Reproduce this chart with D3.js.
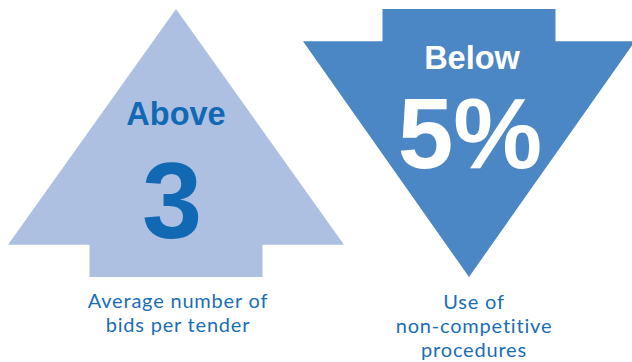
<!DOCTYPE html>
<html>
<head>
<meta charset="utf-8">
<script src="https://cdnjs.cloudflare.com/ajax/libs/d3/7.8.5/d3.min.js"></script>
<style>
  body { margin: 0; background: #fff; }
  svg { display: block; }
</style>
</head>
<body>
<div class="chart"></div>
<script>
// indicator data
var directions = ["up", "down"];
var qualifiers = ["Above", "Below"];
var figures = ["3", "5%"];
var captions = [["Average number of", "bids per tender"], ["Use of", "non-competitive", "procedures"]];
var fills = ["#adc0e1", "#4b86c5"];
var textColors = ["#1169b4", "#ffffff"];

var width = 632, height = 362;

var svg = d3.select(".chart").append("svg")
    .attr("width", width)
    .attr("height", height);

// vertical extent of the arrows, 0 = tip/stem top, 1 = stem bottom/tip
var y = d3.scaleLinear().domain([0, 1]).range([9, 277]);

var data = figures.map(function(f, i) {
  return { dir: directions[i], qual: qualifiers[i], fig: f, cap: captions[i], fill: fills[i], txt: textColors[i] };
});

var arrowPath = function(d, i) {
  var cx = i === 0 ? 176 : 469;
  var hw = i === 0 ? 168 : 166;   // half width of head
  var sw = 86.5;                  // half width of stem
  var p;
  if (d.dir === "up") {
    var base = y(0.88);
    p = [[cx, y(0)], [cx + hw, base], [cx + sw, base], [cx + sw, y(1)],
         [cx - sw, y(1)], [cx - sw, base], [cx - hw, base]];
  } else {
    var top = y(0.12);
    p = [[cx - sw, y(0)], [cx + sw, y(0)], [cx + sw, top], [cx + hw, top],
         [cx, y(1)], [cx - hw, top], [cx - sw, top]];
  }
  return d3.line()(p) + "Z";
};

var g = svg.selectAll(".indicator")
  .data(data)
  .enter().append("g")
    .attr("class", "indicator");

g.append("path")
  .attr("d", arrowPath)
  .attr("fill", function(d) { return d.fill; });

// qualifier word
g.append("text")
  .attr("x", function(d, i) { return i === 0 ? 176 : 472; })
  .attr("y", function(d, i) { return i === 0 ? 125 : 69; })
  .attr("text-anchor", "middle")
  .style("font-family", "'Liberation Sans', Arial, sans-serif")
  .style("font-weight", "bold")
  .style("font-size", "32.5px")
  .attr("fill", function(d) { return d.txt; })
  .text(function(d) { return d.qual; });

// big figure
g.append("text")
  .attr("x", function(d, i) { return i === 0 ? 172 : 470; })
  .attr("y", function(d, i) { return i === 0 ? 238 : 168; })
  .attr("text-anchor", "middle")
  .style("font-family", "'Liberation Sans', Arial, sans-serif")
  .style("font-weight", "bold")
  .style("font-size", function(d, i) { return i === 0 ? "108px" : "100px"; })
  .attr("fill", function(d) { return d.txt; })
  .text(function(d) { return d.fig; });

// captions under the arrows, one text per line
g.each(function(d, i) {
  var cx = i === 0 ? 178 : 474;
  var y0 = i === 0 ? 308 : 309;
  d3.select(this).selectAll(".caption")
    .data(d.cap)
    .enter().append("text")
      .attr("class", "caption")
      .attr("x", cx)
      .attr("y", function(c, j) { return y0 + j * 24; })
      .attr("text-anchor", "middle")
      .style("font-family", "Lato, sans-serif")
      .style("font-size", "20px")
      .style("letter-spacing", "0.8px")
      .attr("fill", "#1a6eb6")
      .text(function(c) { return c; });
});
</script>
</body>
</html>
